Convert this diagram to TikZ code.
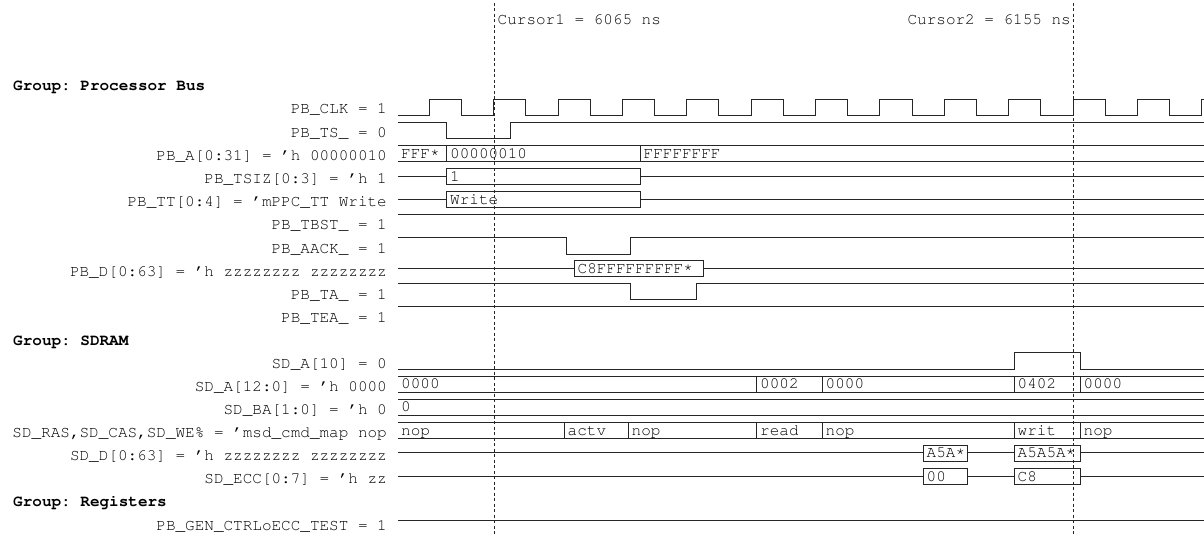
\documentclass[tikz,border=0pt]{standalone}
\usepackage[T1]{fontenc}
\frenchspacing
\newcommand\wvfont{\usefont{T1}{pcr}{m}{n}\fontsize{16}{18}\selectfont\frenchspacing}
\newcommand\wvbold{\usefont{T1}{pcr}{b}{n}\fontsize{16}{18}\selectfont\frenchspacing}
\newcommand\rast{\raisebox{2.2pt}{*}}
\tikzset{
  x={(1pt,0)}, y={(0,-1pt)},
  sig/.style={line width=1pt, draw=black!85},
  lbl/.style={font=\wvfont, anchor=base east, inner sep=0pt, yshift=-4.7pt},
  grp/.style={font=\wvbold, anchor=base west, inner sep=0pt, yshift=-4.7pt},
  val/.style={font=\wvfont, anchor=base west, inner sep=0pt, yshift=-4.8pt},
  cur/.style={line width=1pt, draw=black!85, dash pattern=on 3pt off 2.5pt},
}
\begin{document}
\begin{tikzpicture}
\useasboundingbox (0,0) rectangle (1204,534);
% ---------- labels ----------
\node[grp] (gpb) at (13,86.1) {Group: Processor Bus};
\node[lbl] (lclk) at (387,109.3) {PB\_CLK = 1};
\node[lbl] (lts) at (387,132.5) {PB\_TS\_ = 0};
\node[lbl] (la) at (387,155.7) {PB\_A[0:31] = 'h 00000010};
\node[lbl] (ltsiz) at (387,178.9) {PB\_TSIZ[0:3] = 'h 1};
\node[lbl] (ltt) at (387,202.1) {PB\_TT[0:4] = 'mPPC\_TT Write};
\node[lbl] (ltbst) at (387,225.3) {PB\_TBST\_ = 1};
\node[lbl] (laack) at (387,248.5) {PB\_AACK\_ = 1};
\node[lbl] (ld) at (387,271.7) {PB\_D[0:63] = 'h zzzzzzzz zzzzzzzz};
\node[lbl] (lta) at (387,294.9) {PB\_TA\_ = 1};
\node[lbl] (ltea) at (387,318.1) {PB\_TEA\_ = 1};
\node[grp] (gsd) at (13,340.3) {Group: SDRAM};
\node[lbl] (lsda10) at (387,363.5) {SD\_A[10] = 0};
\node[lbl] (lsda) at (387,386.7) {SD\_A[12:0] = 'h 0000};
\node[lbl] (lsdba) at (387,409.9) {SD\_BA[1:0] = 'h 0};
\node[lbl] (lcmd) at (387,433.1) {SD\_RAS,SD\_CAS,SD\_WE\% = 'msd\_cmd\_map nop};
\node[lbl] (lsdd) at (387,455.3) {SD\_D[0:63] = 'h zzzzzzzz zzzzzzzz};
\node[lbl] (lecc) at (387,478.5) {SD\_ECC[0:7] = 'h zz};
\node[grp] (greg) at (13,501.7) {Group: Registers};
\node[lbl] (lgen) at (387,526) {PB\_GEN\_CTRLoECC\_TEST = 1};
% ---------- PB_CLK ----------
\draw[sig] (398,115.7) -- (429.3,115.7)
  \foreach \k in {1,...,12} { -- ++(0,-16.4) -- ++(32.18,0) -- ++(0,16.4) -- ++(32.19,0) }
  -- ++(0,-16.4) -- (1204,99.3);
% ---------- PB_TS_ ----------
\draw[sig] (398,122.7) -- (446.7,122.7) -- (446.7,139) -- (510,139) -- (510,122.7) -- (1204,122.7);
% ---------- PB_A bus ----------
\draw[sig] (398,145.7) -- (1204,145.7) (398,161.7) -- (1204,161.7)
  (446.7,145.7) -- (446.7,161.7) (640,145.7) -- (640,161.7);
\node[val] (a1) at (401,153.7) {FFF\rast};
\node[val] (a2) at (450,153.7) {00000010};
\node[val] (a3) at (643.5,153.7) {FFFFFFFF};
% ---------- PB_TSIZ ----------
\draw[sig] (398,176.7) -- (446.7,176.7) (640,176.7) -- (1204,176.7);
\draw[sig] (446.7,169) rectangle (640,184.3);
\node[val] (tsiz1) at (450,176.7) {1};
% ---------- PB_TT ----------
\draw[sig] (398,199.5) -- (446.7,199.5) (640,199.5) -- (1204,199.5);
\draw[sig] (446.7,191.7) rectangle (640,207.3);
\node[val] (tt1) at (450,199.5) {Write};
% ---------- PB_TBST_ ----------
\draw[sig] (398,215) -- (1204,215);
% ---------- PB_AACK_ ----------
\draw[sig] (398,237.3) -- (566,237.3) -- (566,254.3) -- (630,254.3) -- (630,237.3) -- (1204,237.3);
% ---------- PB_D ----------
\draw[sig] (398,268.8) -- (574.3,268.8) (703.3,268.8) -- (1204,268.8);
\draw[sig] (574.3,261) rectangle (703.3,276.7);
\node[val] (d1) at (577.5,268.8) {C8FFFFFFFFF\rast};
% ---------- PB_TA_ ----------
\draw[sig] (398,283.3) -- (630,283.3) -- (630,300) -- (696,300) -- (696,283.3) -- (1204,283.3);
% ---------- PB_TEA_ ----------
\draw[sig] (398,306.7) -- (1204,306.7);
% ---------- SD_A[10] ----------
\draw[sig] (398,369) -- (1014.3,369) -- (1014.3,352.7) -- (1080,352.7) -- (1080,369) -- (1204,369);
% ---------- SD_A[12:0] bus ----------
\draw[sig] (398,376) -- (1204,376) (398,392) -- (1204,392);
\foreach \s in {756.7,822.3,1014.3,1080} \draw[sig] (\s,376) -- (\s,392);
\node[val] (sa1) at (401,384) {0000};
\node[val] (sa2) at (760,384) {0002};
\node[val] (sa3) at (825.5,384) {0000};
\node[val] (sa4) at (1017.5,384) {0402};
\node[val] (sa5) at (1083.5,384) {0000};
% ---------- SD_BA bus ----------
\draw[sig] (398,399) -- (1204,399) (398,415) -- (1204,415);
\node[val] (ba1) at (401,407) {0};
% ---------- command bus ----------
\draw[sig] (398,422.7) -- (1204,422.7) (398,438.3) -- (1204,438.3);
\foreach \s in {564.3,628.3,756.7,822.3,1014.3,1080} \draw[sig] (\s,422.7) -- (\s,438.3);
\node[val] (c1) at (401,430.5) {nop};
\node[val] (c2) at (567.5,430.5) {actv};
\node[val] (c3) at (631.5,430.5) {nop};
\node[val] (c4) at (760,430.5) {read};
\node[val] (c5) at (825.5,430.5) {nop};
\node[val] (c6) at (1017.5,430.5) {writ};
\node[val] (c7) at (1083.5,430.5) {nop};
% ---------- SD_D ----------
\draw[sig] (398,452.7) -- (923.3,452.7) (967.3,452.7) -- (1014.3,452.7) (1080,452.7) -- (1204,452.7);
\draw[sig] (923.3,445) rectangle (967.3,461);
\draw[sig] (1014.3,445) rectangle (1080,461);
\node[val] (sd1) at (926.5,452.7) {A5A\rast};
\node[val] (sd2) at (1017.5,452.7) {A5A5A\rast};
% ---------- SD_ECC ----------
\draw[sig] (398,476.3) -- (923.3,476.3) (967.3,476.3) -- (1014.3,476.3) (1080,476.3) -- (1204,476.3);
\draw[sig] (923.3,468.3) rectangle (967.3,484.3);
\draw[sig] (1014.3,468.3) rectangle (1080,484.3);
\node[val] (e1) at (926.5,476.3) {00};
\node[val] (e2) at (1017.5,476.3) {C8};
% ---------- PB_GEN_CTRL ----------
\draw[sig] (398,520) -- (1204,520);
% ---------- cursors ----------
\coordinate (c1top) at (494.3,3);
\coordinate (c1bot) at (494.3,534);
\coordinate (c2top) at (1073.3,3);
\coordinate (c2bot) at (1073.3,534);
\draw[cur] (c1top) -- (c1bot);
\draw[cur] (c2top) -- (c2bot);
\node[val] (cur1) at (497.5,20) {Cursor1 = 6065 ns};
\node[val, anchor=base east] (cur2) at (1071,20) {Cursor2 = 6155 ns};
\end{tikzpicture}
\end{document}
